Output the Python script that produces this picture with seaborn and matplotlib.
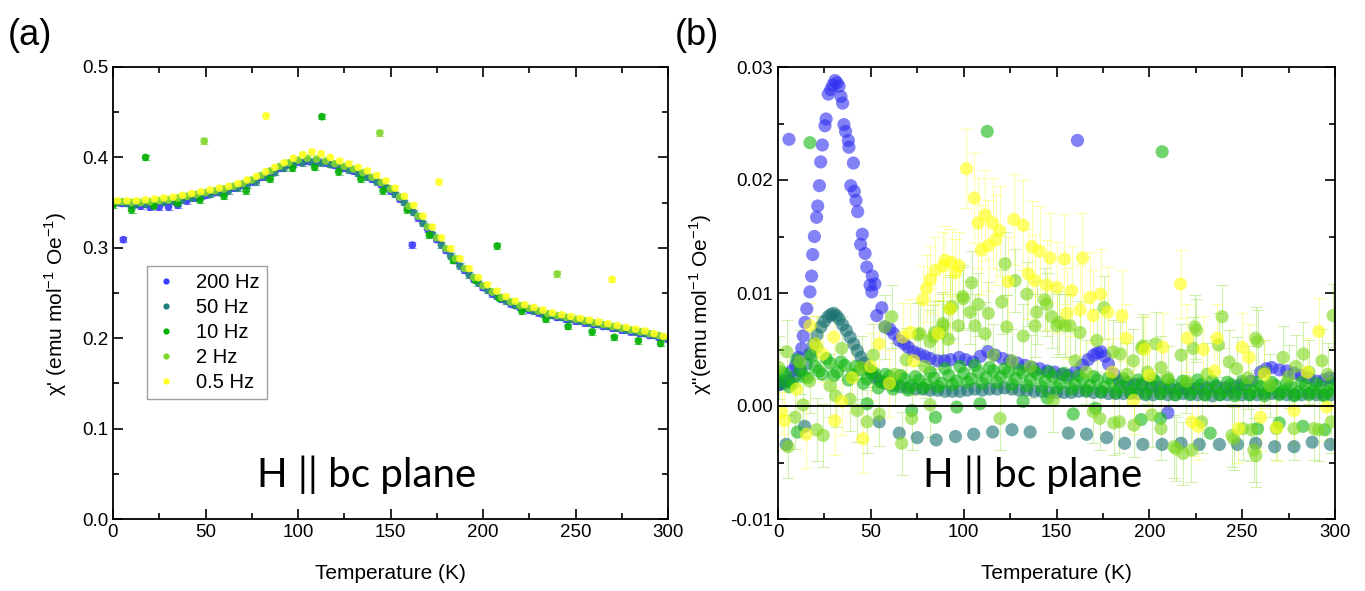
import pandas as pd
import seaborn as sns
import matplotlib.pyplot as plt
from matplotlib.lines import Line2D
from matplotlib.ticker import MultipleLocator, FormatStrFormatter

freqs = ['200 Hz', '50 Hz', '10 Hz', '2 Hz', '0.5 Hz']
colors_a = {'200 Hz': '#3c3cff', '50 Hz': '#1f7f7f', '10 Hz': '#00b000',
            '2 Hz': '#7fd82a', '0.5 Hz': '#ffff22'}
colors_b = {'200 Hz': '#2f2ff0', '50 Hz': '#167070', '10 Hz': '#12b812',
            '2 Hz': '#7fd81e', '0.5 Hz': '#ffff10'}

# ---- panel (a): chi' ----
t_a_even = [0, 5, 10, 15, 20, 25, 30, 35, 40, 45, 50, 55, 60, 65, 70, 75, 80, 85, 90, 95,
            100, 105, 110, 115, 120, 125, 130, 135, 140, 145, 150, 155, 160, 165, 170, 175,
            180, 185, 190, 195, 200, 205, 210, 215, 220, 225, 230, 235, 240, 245, 250, 255,
            260, 265, 270, 275, 280, 285, 290, 295, 300]
t_a_odd = [2.5, 7.5, 12.5, 17.5, 22.5, 27.5, 32.5, 37.5, 42.5, 47.5, 52.5, 57.5, 62.5, 67.5,
           72.5, 77.5, 82.5, 87.5, 92.5, 97.5, 102.5, 107.5, 112.5, 117.5, 122.5, 127.5,
           132.5, 137.5, 142.5, 147.5, 152.5, 157.5, 162.5, 167.5, 172.5, 177.5, 182.5,
           187.5, 192.5, 197.5, 202.5, 207.5, 212.5, 217.5, 222.5, 227.5, 232.5, 237.5,
           242.5, 247.5, 252.5, 257.5, 262.5, 267.5, 272.5, 277.5, 282.5, 287.5, 292.5, 297.5]

chi_a_200 = [0.350, 0.349, 0.347, 0.346, 0.345, 0.345, 0.345, 0.347, 0.352, 0.355,
             0.358, 0.361, 0.363, 0.366, 0.369, 0.373, 0.378, 0.383, 0.388, 0.392,
             0.395, 0.396, 0.396, 0.394, 0.391, 0.388, 0.385, 0.381, 0.376, 0.370,
             0.363, 0.354, 0.344, 0.333, 0.321, 0.309, 0.297, 0.286, 0.275, 0.265,
             0.256, 0.249, 0.243, 0.238, 0.234, 0.231, 0.228, 0.225, 0.223, 0.221,
             0.219, 0.217, 0.215, 0.213, 0.211, 0.209, 0.207, 0.205, 0.203, 0.201, 0.199]
chi_a_50 = [0.350, 0.349, 0.348, 0.348, 0.349, 0.350, 0.351, 0.353, 0.355, 0.357,
            0.359, 0.361, 0.363, 0.366, 0.369, 0.373, 0.378, 0.383, 0.388, 0.392,
            0.394, 0.395, 0.394, 0.392, 0.389, 0.386, 0.382, 0.378, 0.373, 0.367,
            0.359, 0.350, 0.339, 0.327, 0.315, 0.303, 0.291, 0.280, 0.270, 0.261,
            0.253, 0.246, 0.241, 0.236, 0.233, 0.230, 0.227, 0.225, 0.223, 0.221,
            0.219, 0.217, 0.215, 0.213, 0.211, 0.209, 0.207, 0.205, 0.203, 0.201]
chi_a_2 = [0.351, 0.351, 0.350, 0.350, 0.351, 0.352, 0.353, 0.355, 0.357, 0.359,
           0.361, 0.363, 0.365, 0.368, 0.371, 0.375, 0.380, 0.385, 0.390, 0.394,
           0.397, 0.399, 0.398, 0.396, 0.393, 0.390, 0.387, 0.383, 0.378, 0.372,
           0.365, 0.356, 0.346, 0.335, 0.323, 0.311, 0.299, 0.288, 0.277, 0.267,
           0.258, 0.251, 0.245, 0.240, 0.236, 0.233, 0.230, 0.227, 0.225, 0.223,
           0.221, 0.219, 0.217, 0.215, 0.213, 0.211, 0.209, 0.207, 0.205, 0.203, 0.201]
chi_a_05 = [0.352, 0.352, 0.352, 0.353, 0.354, 0.355, 0.356, 0.358, 0.360, 0.362,
            0.364, 0.366, 0.368, 0.371, 0.375, 0.379, 0.384, 0.389, 0.394, 0.399,
            0.403, 0.406, 0.404, 0.400, 0.396, 0.393, 0.389, 0.385, 0.380, 0.374,
            0.366, 0.357, 0.347, 0.335, 0.323, 0.311, 0.299, 0.288, 0.277, 0.267,
            0.259, 0.252, 0.246, 0.241, 0.237, 0.234, 0.231, 0.228, 0.226, 0.224,
            0.222, 0.220, 0.218, 0.216, 0.214, 0.212, 0.210, 0.208, 0.205, 0.202]
t_a_10 = [0, 10, 22, 35, 47, 60, 72, 85, 97, 109, 122, 134, 146, 159, 171, 184, 196, 209,
          221, 234, 246, 259, 271, 284, 296]
chi_a_10 = [0.347, 0.342, 0.346, 0.349, 0.353, 0.357, 0.363, 0.376, 0.388, 0.389, 0.384,
            0.376, 0.363, 0.342, 0.314, 0.286, 0.264, 0.244, 0.230, 0.221, 0.213, 0.207,
            0.201, 0.197, 0.194]

# stray points
t_a_200_out, chi_a_200_out = [5.6, 161.8], [0.309, 0.303]
t_a_10_out, chi_a_10_out = [17.6, 112.9, 207.7], [0.400, 0.445, 0.302]
t_a_2_out, chi_a_2_out = [49.3, 144.2, 240.1], [0.418, 0.427, 0.271]
t_a_05_out, chi_a_05_out = [82.7, 176.2, 269.8], [0.446, 0.373, 0.265]
err_a = 0.003

# ---- panel (b): chi'' ----
t_b_200 = [0.6, 3.5, 7.4, 9.5, 10.9, 12.8, 13.6, 14.5, 15.5, 17.2,
           18.1, 18.7, 19.6, 20.8, 21.4, 22.3, 23.0, 23.9, 25.3, 25.9,
           27.1, 28.4, 29.5, 30.7, 31.8, 32.9, 33.9, 34.8, 35.5, 36.4,
           37.9, 38.2, 39.2, 40.6, 41.1, 42.0, 42.9, 44.5, 45.4, 46.9,
           47.8, 49.6, 50.5, 50.8, 52.2, 53.2, 55.9, 57.6, 60.3, 62.3,
           65.3, 68, 70.1, 73, 76, 79, 82, 86, 89.7, 93,
           97.6, 101, 105, 109, 113, 117, 121, 125, 129, 133,
           137, 141, 145, 149, 153, 156, 160, 164, 167, 170,
           172, 174, 176, 178, 181, 184, 188, 192, 196, 201,
           206, 211, 216, 221, 226, 231, 236, 241, 246, 250,
           255, 260, 263, 266, 270, 274, 278, 282, 286, 290,
           294, 297, 300]
chi_b_200 = [0.0019, 0.0022, 0.0031, 0.0036, 0.0043, 0.0051, 0.0062, 0.0074, 0.0086, 0.0101,
             0.0115, 0.0134, 0.0150, 0.0167, 0.0177, 0.0195, 0.0216, 0.0231, 0.0248, 0.0254,
             0.0276, 0.0280, 0.0284, 0.0288, 0.0286, 0.0283, 0.0274, 0.0268, 0.0249, 0.0243,
             0.0235, 0.0229, 0.0195, 0.0215, 0.0190, 0.0182, 0.0172, 0.0143, 0.0152, 0.0135,
             0.0123, 0.0107, 0.0101, 0.0115, 0.0108, 0.0080, 0.0087, 0.0070, 0.0068, 0.0064,
             0.0058, 0.0055, 0.0052, 0.0048, 0.0046, 0.0044, 0.0042, 0.0040, 0.0040, 0.0041,
             0.0043, 0.0041, 0.0039, 0.0044, 0.0048, 0.0045, 0.0042, 0.0040, 0.0038, 0.0036,
             0.0034, 0.0033, 0.0031, 0.0030, 0.0028, 0.0027, 0.0030, 0.0036, 0.0041, 0.0045,
             0.0047, 0.0048, 0.0044, 0.0037, 0.0028, 0.0022, 0.0020, 0.0019, 0.0018, 0.0018,
             0.0017, 0.0016, 0.0015, 0.0015, 0.0016, 0.0016, 0.0017, 0.0016, 0.0017, 0.0019,
             0.0022, 0.0030, 0.0033, 0.0034, 0.0032, 0.0031, 0.0029, 0.0027, 0.0025, 0.0022,
             0.0023, 0.0025, 0.0024]
t_b_200_out, chi_b_200_out = [5.9, 161.3, 210], [0.0236, 0.0235, -0.0006]

t_b_50 = [0.5, 3, 6, 9, 12, 15.3, 17, 19.2, 21, 23.1,
          25, 27, 28.5, 30, 31.5, 32.9, 34.8, 36.8, 38.8, 40.8,
          42.7, 44.7, 46.6, 48.6, 50.5, 52.5, 55, 58, 62, 66,
          70, 74, 78, 82, 86, 90, 94, 98, 102, 106,
          110, 114, 118, 122, 126, 130, 134, 138, 142, 146,
          150, 154, 158, 162, 166, 170, 174, 178, 182, 186,
          190, 194, 198, 202, 206, 210, 214, 218, 222, 226,
          230, 234, 238, 242, 246, 250, 254, 258, 262, 266,
          270, 274, 278, 282, 286, 290, 294, 298]
chi_b_50 = [0.0019, 0.0020, 0.0022, 0.0026, 0.0031, 0.0037, 0.0046, 0.0055, 0.0063, 0.0070,
            0.0075, 0.0079, 0.0081, 0.0082, 0.0080, 0.0077, 0.0072, 0.0067, 0.0061, 0.0055,
            0.0049, 0.0043, 0.0038, 0.0033, 0.0029, 0.0025, 0.0022, 0.0020, 0.0018, 0.0017,
            0.0016, 0.0015, 0.0015, 0.0014, 0.0014, 0.0013, 0.0013, 0.0013, 0.0014, 0.0015,
            0.0014, 0.0015, 0.0015, 0.0016, 0.0015, 0.0014, 0.0014, 0.0013, 0.0013, 0.0012,
            0.0012, 0.0012, 0.0012, 0.0013, 0.0013, 0.0012, 0.0012, 0.0011, 0.0011, 0.0011,
            0.0011, 0.0011, 0.0010, 0.0010, 0.0011, 0.0010, 0.0010, 0.0011, 0.0010, 0.0010,
            0.0010, 0.0009, 0.0010, 0.0010, 0.0011, 0.0010, 0.0010, 0.0010, 0.0011, 0.0011,
            0.0011, 0.0010, 0.0010, 0.0010, 0.0011, 0.0010, 0.0010, 0.0010]
t_b_50_low = [4.4, 14.3, 54.5, 65.3, 75, 85.2, 95.6, 105.4, 115.6, 126, 135.8, 156.4, 166.2,
              177, 186.7, 196.5, 206.9, 217.1, 226.9, 237.7, 247.5, 257.3, 267.5, 277.9,
              287.7, 297.5]
chi_b_50_low = [-0.0034, -0.0018, -0.0014, -0.0024, -0.0028, -0.0030, -0.0027, -0.0025,
                -0.0023, -0.0021, -0.0023, -0.0024, -0.0025, -0.0028, -0.0033, -0.0034,
                -0.0034, -0.0033, -0.0034, -0.0034, -0.0034, -0.0033, -0.0036, -0.0036,
                -0.0032, -0.0034]

t_b_10 = [0, 4, 8, 12, 16, 20, 24, 28, 32, 36, 40, 44, 48, 52, 56, 60, 64, 68, 72, 76,
          80, 84, 88, 92, 96, 100, 104, 108, 112, 116, 120, 124, 128, 132, 136, 140, 144,
          148, 152, 156, 160, 164, 168, 172, 176, 180, 184, 188, 192, 196, 200, 204, 208,
          212, 216, 220, 224, 228, 232, 236, 240, 244, 248, 252, 256, 260, 264, 268, 272,
          276, 280, 284, 288, 292, 296, 300]
chi_b_10 = [0.0022, 0.0028, 0.0020, 0.0033, 0.0025, 0.0035, 0.0028, 0.0038, 0.0030, 0.0036,
            0.0027, 0.0032, 0.0024, 0.0029, 0.0021, 0.0026, 0.0019, 0.0024, 0.0018, 0.0023,
            0.0019, 0.0025, 0.0020, 0.0027, 0.0022, 0.0029, 0.0024, 0.0030, 0.0025, 0.0031,
            0.0026, 0.0030, 0.0024, 0.0029, 0.0023, 0.0028, 0.0022, 0.0026, 0.0020, 0.0025,
            0.0019, 0.0024, 0.0018, 0.0023, 0.0017, 0.0022, 0.0016, 0.0021, 0.0015, 0.0020,
            0.0016, 0.0021, 0.0015, 0.0019, 0.0014, 0.0020, 0.0015, 0.0019, 0.0014, 0.0018,
            0.0013, 0.0019, 0.0014, 0.0018, 0.0013, 0.0017, 0.0014, 0.0018, 0.0013, 0.0017,
            0.0012, 0.0018, 0.0013, 0.0017, 0.0012, 0.0016]
# second sweep of the 10 Hz run
t_b_10b = [2, 6, 10, 14, 18, 22, 26, 30, 34, 38, 42, 46, 50, 54, 58, 62, 66, 70, 74, 78,
           82, 86, 90, 94, 98, 102, 106, 110, 114, 118, 122, 126, 130, 134, 138, 142, 146,
           150, 154, 158, 162, 166, 170, 174, 178, 182, 186, 190, 194, 198, 202, 206, 210,
           214, 218, 222, 226, 230, 234, 238, 242, 246, 250, 254, 258, 262, 266, 270, 274,
           278, 282, 286, 290, 294, 298]
chi_b_10b = [0.0030, 0.0017, 0.0041, 0.0026, 0.0044, 0.0031, 0.0042, 0.0027, 0.0039, 0.0023,
             0.0035, 0.0020, 0.0031, 0.0016, 0.0028, 0.0015, 0.0027, 0.0014, 0.0026, 0.0016,
             0.0030, 0.0017, 0.0033, 0.0019, 0.0035, 0.0021, 0.0036, 0.0020, 0.0034, 0.0021,
             0.0033, 0.0019, 0.0032, 0.0018, 0.0031, 0.0017, 0.0030, 0.0016, 0.0029, 0.0015,
             0.0027, 0.0014, 0.0026, 0.0013, 0.0025, 0.0012, 0.0024, 0.0012, 0.0023, 0.0011,
             0.0024, 0.0011, 0.0023, 0.0010, 0.0022, 0.0011, 0.0023, 0.0010, 0.0022, 0.0010,
             0.0021, 0.0009, 0.0022, 0.0010, 0.0021, 0.0009, 0.0021, 0.0010, 0.0020, 0.0009,
             0.0021, 0.0010, 0.0020, 0.0009, 0.0020]
t_b_10_out = [17.2, 112.7, 206.9, 10.4, 48, 72, 84.8, 96.3, 108.8, 132, 145, 159, 171,
              195.6, 206, 232.8, 258.3, 270, 282.7, 294.5]
chi_b_10_out = [0.0233, 0.0243, 0.0225, -0.0023, 0.0002, -0.0004, -0.0010, -0.0001, 0.0002,
                0.0004, 0.0007, -0.0007, -0.0002, -0.0012, -0.0011, -0.0024, -0.0020,
                -0.0015, -0.0018, -0.0021]

t_b_2 = [0.5, 4.7, 5.4, 9.2, 11.8, 13.5, 17, 20.8, 20.8, 24.4,
         28, 31, 34.3, 38.8, 42.7, 45, 48, 51.3, 54.5, 57.6,
         61.3, 63, 66.6, 69, 72, 75.4, 76.5, 79, 81.9, 81.9,
         83.6, 84.3, 88.2, 88.8, 89, 91.7, 92.6, 93.7, 97.1, 99.5,
         99.8, 103.5, 104.3, 106.1, 107.9, 111.5, 113.3, 116, 119.6, 120.5,
         122.3, 123.2, 126, 127.7, 132.1, 134, 136, 138.4, 139.3, 143.6,
         144.7, 147.4, 148.3, 150.1, 151.5, 154.6, 157.3, 160, 162.7, 166,
         169.8, 171.7, 173.4, 175.6, 180.6, 180.8, 183.8, 184.4, 188, 191.4,
         191.7, 195.9, 196.5, 199, 201.4, 203.4, 206.3, 206.3, 210, 213.2,
         214.5, 217.1, 218.2, 220, 222.7, 223.6, 224.5, 225.4, 228.2, 231,
         237.3, 239.2, 243, 244.5, 245.5, 247, 250.4, 253, 255, 256.3,
         257.3, 257.4, 258.3, 262, 265, 268.4, 272, 275, 277.9, 279,
         283, 286, 288.7, 291.2, 293, 296, 298, 299]
chi_b_2 = [0.0034, 0.0048, -0.0036, -0.0010, 0.0039, 0.0001, 0.0022, 0.0052, -0.0021, -0.0026,
           0.0018, 0.0009, 0.0051, 0.0006, -0.0004, 0.0034, -0.0014, 0.0045, -0.0007, 0.0070,
           0.0079, 0.0028, -0.0033, 0.0041, -0.0011, 0.0063, 0.0064, 0.0035, 0.0057, 0.0001,
           0.0061, 0.0065, 0.0065, 0.0073, 0.0071, 0.0059, 0.0086, 0.0088, 0.0071, 0.0097,
           0.0095, 0.0083, 0.0109, 0.0071, 0.0090, 0.0064, 0.0082, 0.0045, -0.0011, 0.0092,
           0.0126, 0.0070, 0.0040, 0.0111, 0.0062, 0.0099, 0.0035, 0.0071, 0.0083, 0.0094,
           0.0090, 0.0079, 0.0005, 0.0071, 0.0074, 0.0071, 0.0071, 0.0040, 0.0065, 0.0030,
           -0.0005, 0.0058, -0.0011, 0.0087, 0.0048, -0.0015, -0.0014, 0.0046, 0.0028, 0.0040,
           -0.0017, 0.0051, 0.0053, 0.0030, -0.0008, 0.0055, 0.0034, -0.0020, 0.0025, -0.0036,
           -0.0038, 0.0045, -0.0042, 0.0022, -0.0039, 0.0051, 0.0070, 0.0067, -0.0014, 0.0028,
           0.0054, 0.0079, 0.0039, -0.0026, -0.0029, 0.0033, -0.0020, 0.0025, -0.0021, -0.0039,
           0.0060, -0.0044, 0.0057, 0.0030, 0.0018, -0.0020, 0.0043, 0.0026, -0.0020, 0.0035,
           0.0046, 0.0030, -0.0020, -0.0021, 0.0040, 0.0028, -0.0014, 0.0080]
err_b_2 = 0.0028

t_b_05 = [2, 3.5, 10, 15.3, 17.2, 20.2, 24.1, 30, 30.5, 34.3,
          40, 45.7, 50, 54.5, 60, 67.2, 71.1, 73.1, 78, 80,
          82, 84.8, 86.3, 89, 90, 92.6, 93.6, 95.6, 97.6, 101.5,
          105.7, 107.8, 109.5, 111.6, 113.3, 115.6, 117.2, 119.4, 124, 127,
          132, 134.8, 136.8, 138.4, 140.9, 144.7, 146.5, 150.3, 154.3, 155.5,
          158.2, 162.7, 164, 168, 169.8, 173.7, 177.6, 180, 185.2, 187.5,
          191.6, 197.5, 200, 207.3, 216.8, 220.4, 223, 226.4, 229, 235,
          236.5, 248, 250, 253.8, 260, 262, 268.7, 277.9, 285, 291.3, 295.5]
chi_b_05 = [-0.0005, -0.0013, 0.0015, -0.0025, 0.0071, 0.0055, 0.0046, 0.0061, -0.0013, 0.0004,
            0.0025, -0.0029, 0.0035, 0.0055, 0.0020, 0.0061, 0.0065, 0.0040, 0.0094, 0.0104,
            0.0112, 0.0120, 0.0064, 0.0124, 0.0129, 0.0086, 0.0127, 0.0118, 0.0124, 0.0210,
            0.0184, 0.0162, 0.0138, 0.0169, 0.0142, 0.0162, 0.0147, 0.0155, 0.0110, 0.0165,
            0.0160, 0.0117, 0.0141, 0.0111, 0.0137, 0.0107, 0.0131, 0.0105, 0.0130, 0.0082,
            0.0102, 0.0085, 0.0131, 0.0096, 0.0080, 0.0099, 0.0083, 0.0030, 0.0080, 0.0060,
            0.0005, 0.0050, 0.0027, 0.0052, 0.0108, 0.0060, -0.0014, -0.0018, 0.0050, 0.0031,
            0.0060, -0.0020, 0.0052, 0.0043, -0.0010, 0.0028, -0.0019, -0.0004, 0.0030, 0.0066,
            -0.0001]
err_b_05 = [0.002, 0.0025, 0.002, 0.003, 0.002, 0.0025, 0.0025, 0.0025, 0.003, 0.003,
            0.003, 0.003, 0.003, 0.003, 0.003, 0.003, 0.003, 0.003, 0.003, 0.003,
            0.003, 0.003, 0.003, 0.003, 0.003, 0.003, 0.003, 0.003, 0.003, 0.0035,
            0.004, 0.004, 0.004, 0.004, 0.004, 0.004, 0.004, 0.004, 0.004, 0.004,
            0.004, 0.004, 0.004, 0.004, 0.004, 0.004, 0.004, 0.004, 0.004, 0.004,
            0.004, 0.004, 0.004, 0.004, 0.004, 0.004, 0.004, 0.003, 0.004, 0.003,
            0.003, 0.003, 0.003, 0.003, 0.003, 0.003, 0.003, 0.003, 0.003, 0.003,
            0.003, 0.003, 0.003, 0.003, 0.003, 0.003, 0.003, 0.003, 0.003, 0.003,
            0.003]


def frame(parts):
    rows = []
    for freq, t, chi, err in parts:
        if not isinstance(err, list):
            err = [err] * len(t)
        rows.append(pd.DataFrame({'T': t, 'chi': chi, 'err': err, 'freq': freq}))
    return pd.concat(rows, ignore_index=True)


df_a = frame([
    ('200 Hz', t_a_even + t_a_200_out, chi_a_200 + chi_a_200_out, err_a),
    ('50 Hz', t_a_odd, chi_a_50, err_a),
    ('10 Hz', t_a_10 + t_a_10_out, chi_a_10 + chi_a_10_out, err_a),
    ('2 Hz', t_a_even + t_a_2_out, chi_a_2 + chi_a_2_out, err_a),
    ('0.5 Hz', t_a_odd + t_a_05_out, chi_a_05 + chi_a_05_out, err_a),
])
df_b = frame([
    ('200 Hz', t_b_200 + t_b_200_out, chi_b_200 + chi_b_200_out, 0.0),
    ('50 Hz', t_b_50 + t_b_50_low, chi_b_50 + chi_b_50_low, 0.0),
    ('10 Hz', t_b_10 + t_b_10b + t_b_10_out, chi_b_10 + chi_b_10b + chi_b_10_out, 0.0),
    ('2 Hz', t_b_2, chi_b_2, err_b_2),
    ('0.5 Hz', t_b_05, chi_b_05, err_b_05),
])

sns.set_style('ticks')
plt.rcParams['font.family'] = ['Liberation Sans', 'DejaVu Sans']
plt.rcParams['mathtext.fontset'] = 'custom'
plt.rcParams['mathtext.rm'] = 'Liberation Sans'
plt.rcParams['axes.unicode_minus'] = False
for key in ['text.color', 'axes.labelcolor', 'xtick.color', 'ytick.color']:
    plt.rcParams[key] = 'black'

fig = plt.figure(figsize=(13.65, 5.91), dpi=100)
ax1 = fig.add_axes([113 / 1365, 1 - 519 / 591, 555 / 1365, 452 / 591])
ax2 = fig.add_axes([778 / 1365, 1 - 519 / 591, 557 / 1365, 452 / 591])

# (a)
for f in freqs:
    d = df_a[df_a.freq == f]
    ax1.errorbar(d['T'], d['chi'], yerr=d['err'], fmt='none', ecolor=colors_a[f],
                 elinewidth=0.8, capsize=3, capthick=0.8, alpha=0.6, zorder=1)
sns.scatterplot(data=df_a, x='T', y='chi', hue='freq', hue_order=freqs, palette=colors_a,
                s=30, edgecolor='none', alpha=0.9, legend=False, ax=ax1, zorder=2)

handles = [Line2D([], [], ls='', marker='o', ms=4.5, mec='none', color=colors_a[f])
           for f in freqs]
leg = ax1.legend(handles, freqs, loc='upper left', bbox_to_anchor=(0.061, 0.56),
                 borderaxespad=0, fontsize=14.5, frameon=True, fancybox=False,
                 edgecolor='#888888', handlelength=1.2, handletextpad=0.9,
                 labelspacing=0.3, borderpad=0.35)
leg.get_frame().set_linewidth(1.0)

ax1.set_xlim(0, 300)
ax1.set_ylim(0, 0.5)
ax1.yaxis.set_major_locator(MultipleLocator(0.1))
ax1.yaxis.set_minor_locator(MultipleLocator(0.05))
ax1.yaxis.set_major_formatter(FormatStrFormatter('%.1f'))
ax1.set_ylabel("χ' (emu mol$^{-1}$ Oe$^{-1}$)", fontsize=15)
ax1.text(137, 0.035, 'H || bc plane', fontsize=29, family=['Lato', 'DejaVu Sans'],
         ha='center', va='baseline')

# (b)
for f in ['2 Hz', '0.5 Hz']:
    d = df_b[df_b.freq == f]
    ax2.errorbar(d['T'], d['chi'], yerr=d['err'], fmt='none', ecolor=colors_b[f],
                 elinewidth=0.8, capsize=4, capthick=0.8, alpha=0.35, zorder=1)
sns.scatterplot(data=df_b, x='T', y='chi', hue='freq', hue_order=freqs, palette=colors_b,
                s=90, edgecolor='none', alpha=0.6, legend=False, ax=ax2, zorder=2)
ax2.axhline(0, color='black', lw=1.3, zorder=3)

ax2.set_xlim(0, 300)
ax2.set_ylim(-0.01, 0.03)
ax2.yaxis.set_major_locator(MultipleLocator(0.01))
ax2.yaxis.set_minor_locator(MultipleLocator(0.005))
ax2.yaxis.set_major_formatter(FormatStrFormatter('%.2f'))
ax2.set_ylabel('χ"(emu mol$^{-1}$ Oe$^{-1}$)', fontsize=15)
ax2.text(137, -0.0072, 'H || bc plane', fontsize=29, family=['Lato', 'DejaVu Sans'],
         ha='center', va='baseline')

for ax, ylx in [(ax1, -0.08), (ax2, -0.115)]:
    ax.xaxis.set_major_locator(MultipleLocator(50))
    ax.xaxis.set_minor_locator(MultipleLocator(25))
    ax.set_xlabel('Temperature (K)', fontsize=15)
    ax.xaxis.set_label_coords(0.5, -0.1)
    ax.yaxis.set_label_coords(ylx, 0.475)
    ax.tick_params(which='both', direction='in', top=True, right=True, width=1.2,
                   labelsize=13.5, colors='black')
    ax.tick_params(which='major', length=7)
    ax.tick_params(which='minor', length=4)
    for s in ax.spines.values():
        s.set_linewidth(1.3)
        s.set_color('black')

fig.text(0.006, 0.94, '(a)', fontsize=26, va='center')
fig.text(0.494, 0.94, '(b)', fontsize=26, va='center')

fig.savefig('out.png', dpi=100)
